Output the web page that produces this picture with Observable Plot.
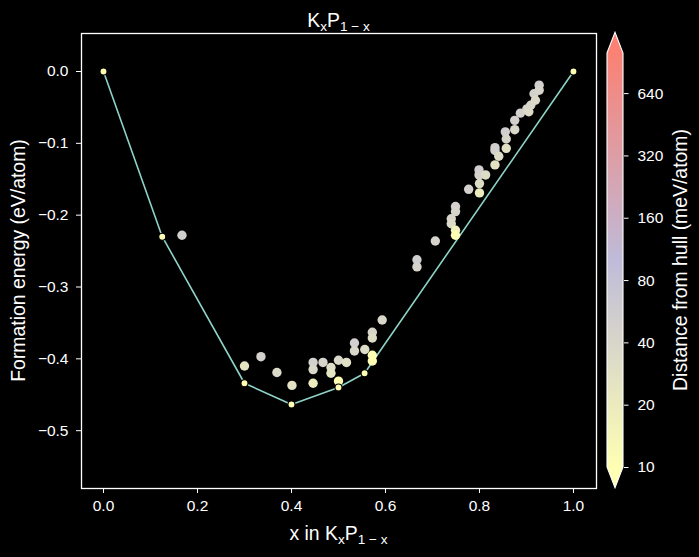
<!DOCTYPE html>
<html><head><meta charset="utf-8">
<script src="https://cdn.jsdelivr.net/npm/d3@7"></script>
<script src="https://cdn.jsdelivr.net/npm/@observablehq/plot@0.6"></script>
<style>
html,body{margin:0;padding:0;background:#000;}
#chart{position:relative;width:699px;height:557px;background:#000;overflow:hidden;}
#chart svg{position:absolute;top:0;}
</style></head><body><div id="chart"></div>
<script>
// Stable (on-hull) phases
const hullX = [0, 0.125, 0.3, 0.4, 0.5, 0.5556, 1.0];
const hullE = [0, -0.23, -0.434, -0.4636, -0.44, -0.42, 0];
const hullD = [0, 0, 0, 0, 0, 0, 0];
// Unstable phases
const unstX = [0.167,0.3,0.335,0.369,0.401,0.446,0.446,0.446,0.467,0.484,0.484,0.5,0.517,0.5,0.534,0.534,0.556,0.572,0.572,0.572,0.572,0.593,0.667,0.667,0.706,0.749,0.749,0.74,0.74,0.749,0.749,0.777,0.799,0.799,0.813,0.8,0.8,0.833,0.833,0.841,0.833,0.855,0.857,0.857,0.875,0.875,0.887,0.901,0.905,0.909,0.916,0.919,0.927,0.927];
const unstE = [-0.228,-0.41,-0.397,-0.419,-0.437,-0.405,-0.415,-0.434,-0.405,-0.412,-0.42,-0.402,-0.405,-0.431,-0.378,-0.389,-0.387,-0.363,-0.371,-0.395,-0.403,-0.346,-0.262,-0.272,-0.236,-0.188,-0.195,-0.205,-0.212,-0.221,-0.228,-0.164,-0.137,-0.144,-0.144,-0.156,-0.169,-0.106,-0.110,-0.118,-0.130,-0.084,-0.094,-0.107,-0.068,-0.081,-0.058,-0.052,-0.056,-0.047,-0.031,-0.040,-0.019,-0.026];
const unstD = [51,24,47,35,27,48,38,19,43,32,24,38,29,9,50,39,33,41,33,9,1,39,53,43,42,49,42,41,34,16,9,47,53,46,33,33,20,52,48,32,28,53,41,28,50,37,49,42,34,39,48,37,50,43];
// Ticks & colour map
const xTicks = [0, 0.2, 0.4, 0.6, 0.8, 1.0];
const yTicks = [0, -0.1, -0.2, -0.3, -0.4, -0.5];
const cbTicks = [10, 20, 40, 80, 160, 320, 640];
const cmapDomain = [10, 100, 1000];
const cmapColors = ["#feffb3", "#bfbbd9", "#fa8174"];

const hull = hullX.map((x, i) => ({x, e: hullE[i], d: hullD[i]}));
const unst = unstX.map((x, i) => ({x, e: unstE[i], d: unstD[i]}));

const FONT = '"Liberation Sans", Arial, Helvetica, sans-serif';
const TICKFS = "15.5px", LABFS = "19.4px";
const W = 699, H = 557;
const colorOpts = {type: "log", domain: cmapDomain, range: cmapColors, interpolate: "rgb", clamp: true};

const main = Plot.plot({
  width: W, height: H,
  marginLeft: 81, marginRight: 103, marginTop: 33, marginBottom: 69,
  style: {background: "#000", color: "#fff", fontFamily: FONT, fontSize: TICKFS, overflow: "visible"},
  x: {domain: [-0.0468, 1.049]},
  y: {domain: [-0.5805, 0.0529]},
  color: colorOpts,
  marks: [
    Plot.axisX({ticks: xTicks, tickFormat: d3.format(".1f"), tickSize: 5, tickPadding: 6, label: null, stroke: "#fff"}),
    Plot.axisY({ticks: yTicks, tickFormat: d3.format(".1f"), tickSize: 5, tickPadding: 8, label: null, stroke: "#fff"}),
    Plot.line(hull, {x: "x", y: "e", stroke: "#8dd3c7", strokeWidth: 1.6}),
    Plot.dot(unst, {x: "x", y: "e", r: 4.7, fill: "d", stroke: null}),
    Plot.dot(hull, {x: "x", y: "e", r: 3.5, fill: d => Math.max(d.d, 10), stroke: "#000", strokeWidth: 1.1}),
    Plot.frame({stroke: "#fff", strokeWidth: 1.3})
  ]
});

const cb = Plot.plot({
  width: 109, height: H,
  marginLeft: 17, marginRight: 76, marginTop: 53, marginBottom: 90,
  style: {background: "transparent", color: "#fff", fontFamily: FONT, fontSize: TICKFS, overflow: "visible"},
  x: {domain: [0, 1], axis: null},
  y: {type: "log", domain: [10, 1000], axis: null},
  marks: [
    Plot.rect([{lo: 10, hi: 1000}], {x1: () => 0, x2: () => 1, y1: "lo", y2: "hi", fill: "url(#cbgrad)"}),
    Plot.axisY({anchor: "right", ticks: cbTicks, tickFormat: () => "", tickSize: 4.5, tickPadding: 9, label: null, stroke: "#fff"}),
    Plot.text(cbTicks, {x: () => 1, y: d => d, text: d => String(d), dx: 14, textAnchor: "start", fill: "#fff", fontSize: TICKFS})
  ]
});

const chart = document.getElementById("chart");
chart.appendChild(main);
main.style.left = "0px";
chart.appendChild(cb);
cb.style.left = "590px";

// colour bar gradient, extension triangles and outline
const cbs = d3.select(cb);
const grad = cbs.insert("defs", ":first-child").append("linearGradient")
  .attr("id", "cbgrad").attr("x1", 0).attr("y1", 1).attr("x2", 0).attr("y2", 0);
cmapColors.forEach((c, i) => grad.append("stop").attr("offset", i / (cmapColors.length - 1)).attr("stop-color", c));
const ys = cb.scale("y"), xs = cb.scale("x");
const xL = xs.apply(0), xR = xs.apply(1), xM = (xL + xR) / 2;
const yTop = ys.apply(1000), yBot = ys.apply(10);
const ext = (yBot - yTop) * 0.05;
cbs.append("polygon").attr("points", `${xL},${yTop} ${xM},${yTop - ext} ${xR},${yTop}`).attr("fill", cmapColors[2]);
cbs.append("polygon").attr("points", `${xL},${yBot} ${xM},${yBot + ext} ${xR},${yBot}`).attr("fill", cmapColors[0]);
cbs.append("polygon")
  .attr("points", `${xL},${yTop} ${xM},${yTop - ext} ${xR},${yTop} ${xR},${yBot} ${xM},${yBot + ext} ${xL},${yBot}`)
  .attr("fill", "none").attr("stroke", "#fff").attr("stroke-width", 1.1);
cbs.append("text")
  .attr("transform", `translate(97,${(yTop + yBot) / 2}) rotate(-90)`)
  .attr("text-anchor", "middle").attr("fill", "#fff")
  .style("font-family", FONT).style("font-size", LABFS)
  .text("Distance from hull (meV/atom)");

// main plot texts with subscripts
const ms = d3.select(main);
function chem(sel, prefix) {
  if (prefix) sel.append("tspan").text(prefix);
  sel.append("tspan").text("K");
  sel.append("tspan").attr("font-size", "70%").attr("dy", "4").text("x");
  sel.append("tspan").attr("dy", "-4").text("P");
  sel.append("tspan").attr("font-size", "70%").attr("dy", "4").text("1 − x");
}
const cx = (81 + (W - 103)) / 2;
chem(ms.append("text").attr("x", cx).attr("y", 27).attr("text-anchor", "middle").attr("fill", "#fff")
  .style("font-family", FONT).style("font-size", LABFS), "");
chem(ms.append("text").attr("x", cx).attr("y", 540).attr("text-anchor", "middle").attr("fill", "#fff")
  .style("font-family", FONT).style("font-size", LABFS), "x in ");
ms.append("text").attr("transform", `translate(25,${(33 + 488) / 2}) rotate(-90)`)
  .attr("text-anchor", "middle").attr("fill", "#fff")
  .style("font-family", FONT).style("font-size", LABFS)
  .text("Formation energy (eV/atom)");
</script></body></html>
